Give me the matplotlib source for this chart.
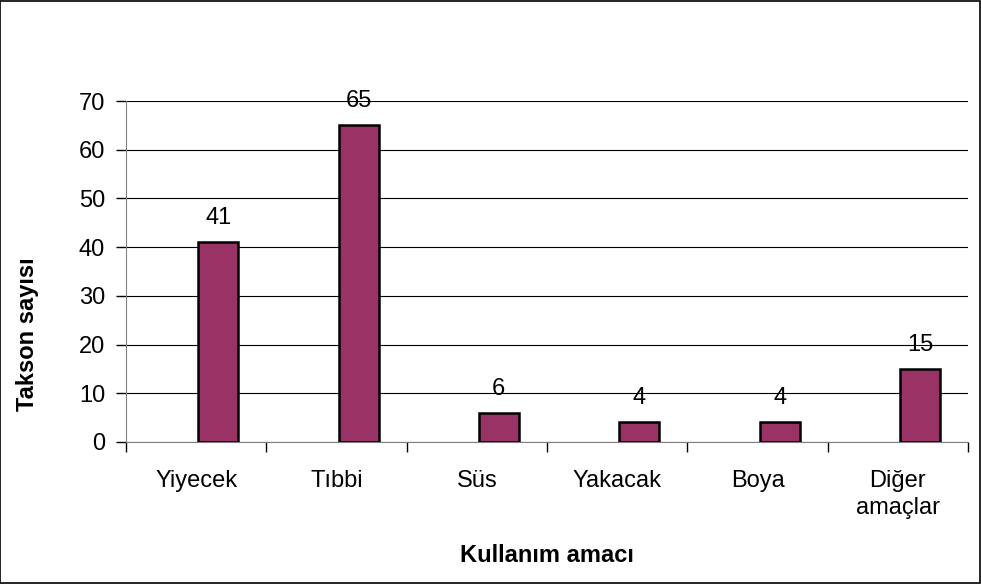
import matplotlib.pyplot as plt
from matplotlib.patches import Rectangle

plt.rcParams['font.family'] = ['Liberation Sans', 'DejaVu Sans']

categories = ['Yiyecek', 'Tıbbi', 'Süs', 'Yakacak', 'Boya', 'Diğer\namaçlar']
values = [41, 65, 6, 4, 4, 15]

fs = 17

fig = plt.figure(figsize=(9.81, 5.84), dpi=100)
ax = fig.add_axes([0.1284, 0.2432, 0.8584, 0.5838])

x = list(range(len(categories)))
bar_x = [i + 0.157 for i in x]
ax.bar(bar_x, values, width=0.285, color='#993366', edgecolor='black', linewidth=1.8, zorder=3)

for bx, v in zip(bar_x, values):
    ax.annotate(str(v), (bx, v), xytext=(0, 13), textcoords='offset points',
                ha='center', va='baseline', fontsize=fs)

ax.set_xlim(-0.5, len(categories) - 0.5)
ax.set_ylim(0, 70)
ax.set_yticks(range(0, 71, 10))
ax.yaxis.grid(True, color='black', linewidth=0.8)
ax.set_axisbelow(True)

ax.set_xticks(x)
ax.set_xticklabels(categories, fontsize=fs, linespacing=1.28)
ax.set_xticks([i - 0.5 for i in range(len(categories) + 1)], minor=True)
ax.tick_params(axis='x', which='major', length=0, pad=20)
ax.tick_params(axis='x', which='minor', length=7, width=1, color='black')
ax.tick_params(axis='y', length=7, width=1, labelsize=fs, pad=8)

for s in ['top', 'right']:
    ax.spines[s].set_visible(False)
ax.spines['left'].set_color('#808080')
ax.spines['bottom'].set_color('#808080')

fig.text(28 / 981, 1 - 334 / 584, 'Takson sayısı', rotation=90, ha='center', va='center',
         fontsize=fs, fontweight='bold')
fig.text(547 / 981, 1 - 555 / 584, 'Kullanım amacı', ha='center', va='center',
         fontsize=fs, fontweight='bold')

fig.patches.append(Rectangle((0.0005, 0.001), 0.998, 0.997, transform=fig.transFigure,
                             fill=False, edgecolor='black', linewidth=1.2))

fig.savefig('out.png', dpi=100)
